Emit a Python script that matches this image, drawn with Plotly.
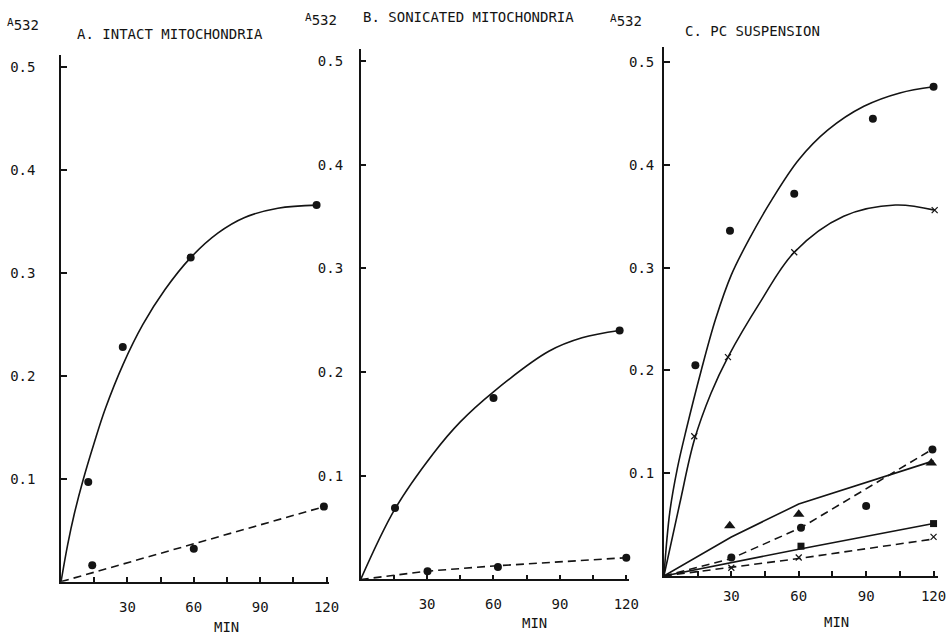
import plotly.graph_objects as go

# ---------------- data ----------------
# Panel A: intact mitochondria
a_solid_min = [12.3, 27.9, 58.6, 115.5]
a_solid_val = [0.097, 0.228, 0.315, 0.366]
a_dash_min = [14.1, 60.0, 118.8]
a_dash_val = [0.016, 0.032, 0.073]
a_fit_solid_min = [0, 3, 6, 10, 15, 20, 28, 37, 47, 58.6, 71, 83, 98, 116]
a_fit_solid_val = [0, 0.036, 0.066, 0.099, 0.135, 0.168, 0.211, 0.250, 0.284, 0.315, 0.339, 0.354, 0.363, 0.366]
a_fit_dash_min = [0, 119]
a_fit_dash_val = [0, 0.073]

# Panel B: sonicated mitochondria
b_solid_min = [15.5, 60.0, 117.0]
b_solid_val = [0.069, 0.175, 0.240]
b_dash_min = [30.2, 62.0, 120.0]
b_dash_val = [0.008, 0.012, 0.021]
b_fit_solid_min = [0, 15.5, 33.0, 45.0, 60.0, 85.0, 100.0, 117.0]
b_fit_solid_val = [0, 0.068, 0.122, 0.152, 0.181, 0.220, 0.233, 0.240]
b_fit_dash_min = [0, 30, 60, 120]
b_fit_dash_val = [0, 0.008, 0.013, 0.021]

# Panel C: PC suspension
c_circ_min = [14.0, 29.4, 58.0, 93.0, 120.0]
c_circ_val = [0.205, 0.336, 0.372, 0.445, 0.476]
c_circ_fit_min = [0, 2.6, 6, 10, 16.6, 23, 30, 38, 48, 60, 73, 89, 105, 120]
c_circ_fit_val = [0, 0.062, 0.105, 0.143, 0.200, 0.250, 0.293, 0.328, 0.366, 0.405, 0.434, 0.457, 0.470, 0.476]

c_x_min = [13.5, 28.5, 58.0, 120.5]
c_x_val = [0.136, 0.213, 0.315, 0.356]
c_x_fit_min = [0, 7, 13.5, 21, 28.5, 43, 58, 80, 103, 120.5]
c_x_fit_val = [0, 0.070, 0.132, 0.178, 0.213, 0.267, 0.315, 0.350, 0.361, 0.356]

c_tri_min = [29.3, 60.0, 119.0]
c_tri_val = [0.049, 0.060, 0.110]
c_tri_fit_min = [0, 30, 60, 120]
c_tri_fit_val = [0, 0.038, 0.070, 0.112]

c_dcirc_min = [30.0, 61.0, 90.0, 119.5]
c_dcirc_val = [0.018, 0.047, 0.068, 0.123]
c_dcirc_fit_min = [0, 30, 61, 120]
c_dcirc_fit_val = [0, 0.017, 0.047, 0.124]

c_sq_min = [61.0, 120.0]
c_sq_val = [0.029, 0.051]
c_sq_fit_min = [0, 60, 120]
c_sq_fit_val = [0, 0.026, 0.051]

c_dx_min = [30.0, 60.0, 120.0]
c_dx_val = [0.008, 0.018, 0.038]
c_dx_fit_min = [0, 60, 120]
c_dx_fit_val = [0, 0.017, 0.036]

x_tick_vals = [15, 30, 45, 60, 75, 90, 105, 120]
x_tick_text = ["", "30", "", "60", "", "90", "", "120"]
y_tick_vals = [0.1, 0.2, 0.3, 0.4, 0.5]
y_tick_text = ["0.1", "0.2", "0.3", "0.4", "0.5"]

titles = ["A. INTACT MITOCHONDRIA", "B. SONICATED MITOCHONDRIA", "C. PC SUSPENSION"]

# ---------------- figure ----------------
INK = "#141414"
FONT = "DejaVu Sans Mono"
W, H = 952, 634

fig = go.Figure()


def line(xs, ys, ax, dash="solid", spline=False):
    fig.add_trace(go.Scatter(
        x=xs, y=ys, mode="lines", xaxis="x" + ax, yaxis="y" + ax,
        line=dict(color=INK, width=1.6, dash=dash,
                  shape="spline" if spline else "linear", smoothing=1.0),
        cliponaxis=False, showlegend=False, hoverinfo="skip"))


def pts(xs, ys, ax, symbol="circle", size=8):
    fig.add_trace(go.Scatter(
        x=xs, y=ys, mode="markers", xaxis="x" + ax, yaxis="y" + ax,
        marker=dict(color=INK, size=size, symbol=symbol,
                    line=dict(width=0 if "x" not in symbol else 1.2, color=INK)),
        cliponaxis=False, showlegend=False))


DASH = "8px,5px"

# Panel A
line(a_fit_solid_min, a_fit_solid_val, "", spline=True)
line(a_fit_dash_min, a_fit_dash_val, "", dash=DASH)
pts(a_solid_min, a_solid_val, "")
pts(a_dash_min, a_dash_val, "")

# Panel B
line(b_fit_solid_min, b_fit_solid_val, "2", spline=True)
line(b_fit_dash_min, b_fit_dash_val, "2", dash=DASH)
pts(b_solid_min, b_solid_val, "2")
pts(b_dash_min, b_dash_val, "2")

# Panel C
line(c_circ_fit_min, c_circ_fit_val, "3", spline=True)
line(c_x_fit_min, c_x_fit_val, "3", spline=True)
line(c_tri_fit_min, c_tri_fit_val, "3")
line(c_dcirc_fit_min, c_dcirc_fit_val, "3", dash=DASH)
line(c_sq_fit_min, c_sq_fit_val, "3")
line(c_dx_fit_min, c_dx_fit_val, "3", dash=DASH)
pts(c_circ_min, c_circ_val, "3")
pts(c_x_min, c_x_val, "3", symbol="x-thin", size=6)
pts(c_tri_min, c_tri_val, "3", symbol="triangle-up", size=10)
pts(c_dcirc_min, c_dcirc_val, "3")
pts(c_sq_min, c_sq_val, "3", symbol="square", size=7)
pts(c_dx_min, c_dx_val, "3", symbol="x-thin", size=6)

tick_font = dict(family=FONT, size=14, color=INK)


def xaxis(domain, rng, anchor, standoff):
    return dict(domain=domain, range=rng, anchor=anchor, showline=True, linecolor=INK,
                linewidth=1.6, showgrid=False, zeroline=False, ticks="inside", ticklen=5,
                tickwidth=1.5, tickcolor=INK, tickvals=x_tick_vals, ticktext=x_tick_text,
                tickfont=tick_font, ticklabelstandoff=standoff, fixedrange=True)


def yaxis(domain, rng, anchor, standoff):
    return dict(domain=domain, range=rng, anchor=anchor, showline=True, linecolor=INK,
                linewidth=1.6, showgrid=False, zeroline=False, ticks="inside", ticklen=6,
                tickwidth=1.5, tickcolor=INK, tickvals=y_tick_vals, ticktext=y_tick_text,
                tickfont=tick_font, ticklabelstandoff=standoff, fixedrange=True)


fig.update_layout(
    width=W, height=H, margin=dict(l=0, r=0, t=0, b=0),
    paper_bgcolor="white", plot_bgcolor="white",
    font=dict(family=FONT, color=INK),
    xaxis=xaxis([0.0648, 0.3490], [0, 121], "y", 12),
    yaxis=yaxis([0.0825, 0.9134], [0, 0.512], "x", 21),
    xaxis2=xaxis([0.3829, 0.6672], [0, 121], "y2", 11),
    yaxis2=yaxis([0.0860, 0.9235], [0, 0.512], "x2", 13),
    xaxis3=xaxis([0.7048, 0.9958], [0, 122], "y3", 6),
    yaxis3=yaxis([0.0915, 0.9263], [0, 0.515], "x3", 5),
)


def ann(text, px, py, size=14, xanchor="center"):
    fig.add_annotation(text=text, x=px / W, y=1 - py / H, xref="paper", yref="paper",
                       showarrow=False, xanchor=xanchor, yanchor="middle",
                       font=dict(family=FONT, size=size, color=INK))


# panel titles
ann(titles[0], 172, 34, size=14)
ann(titles[1], 473, 17, size=14)
ann(titles[2], 760, 31, size=14)

# y-axis labels (A532)
a532 = "<span style='font-size:11px'>A</span><sub>532</sub>"
ann(a532, 5, 25, size=20, xanchor="left")
ann(a532, 306, 19, size=20, xanchor="left")
ann(a532, 614, 20, size=20, xanchor="left")

# x-axis labels
ann("MIN", 229, 627)
ann("MIN", 540, 623)
ann("MIN", 845, 622)

fig.write_html("out.html", config={"displayModeBar": False},
               post_script="document.body.style.margin='0px';")
